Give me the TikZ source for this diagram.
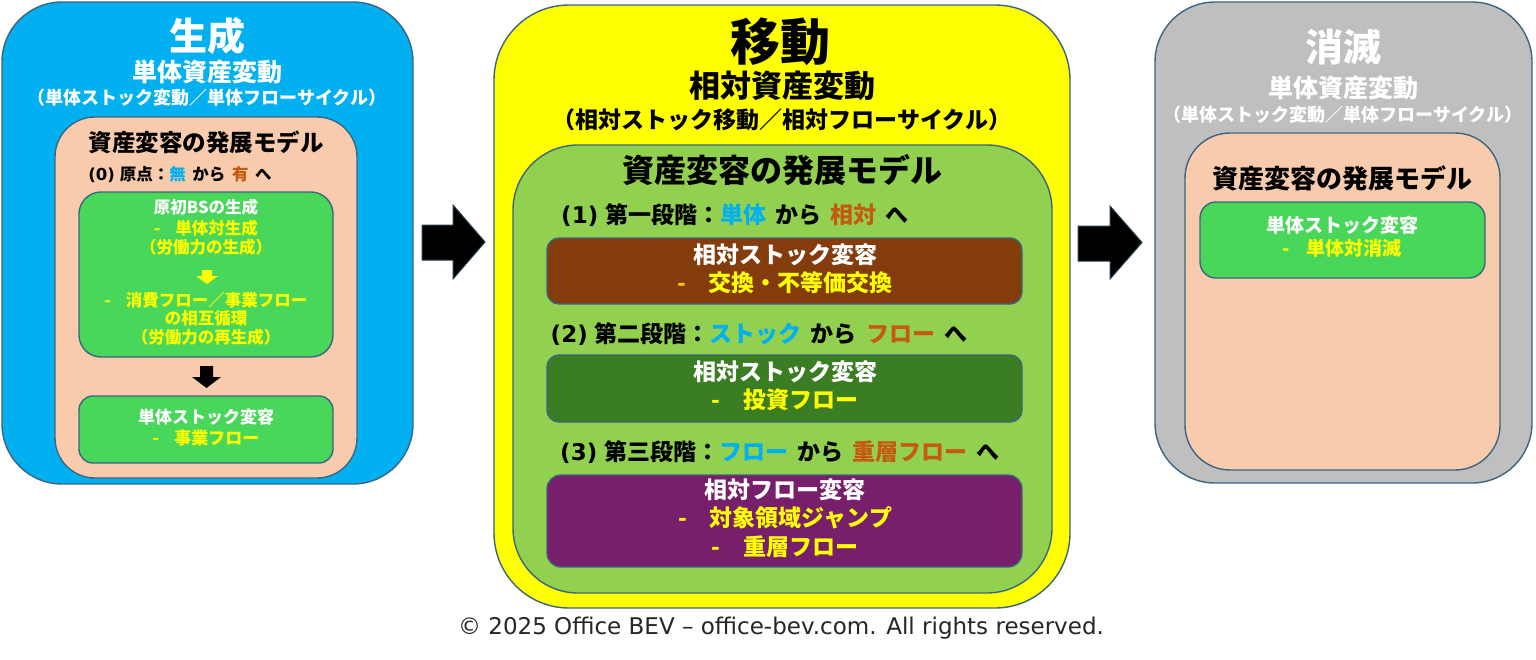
\documentclass[tikz,border=0pt]{standalone}
\usepackage{fontspec}
\setmainfont{Noto Sans CJK JP}
\newfontfamily\cpyfont{DejaVu Sans}
\newcommand{\lat}[1]{{\cpyfont\bfseries #1}}
\newcommand{\wsp}{\hspace{0.4em}}
\definecolor{blueP}{HTML}{00B0F0}
\definecolor{yellowP}{HTML}{FFFF00}
\definecolor{grayP}{HTML}{BFBFBF}
\definecolor{greenP}{HTML}{92D050}
\definecolor{peach}{HTML}{F8CBAD}
\definecolor{bgreen}{HTML}{48D65B}
\definecolor{brownB}{HTML}{843C0C}
\definecolor{dkgreen}{HTML}{3A7D22}
\definecolor{purpleB}{HTML}{781F6B}
\definecolor{edge}{HTML}{3C6580}
\definecolor{txtblue}{HTML}{00B0F0}
\definecolor{txtorange}{HTML}{C55A11}
\definecolor{ytxt}{HTML}{FFFF00}
\definecolor{otxt}{HTML}{FFC000}
\definecolor{cpy}{HTML}{262626}
\newcommand{\fs}[1]{\fontsize{#1}{#1}\selectfont\bfseries}
\begin{document}
\begin{tikzpicture}[x=1pt,y=-1pt,
  panel/.style={draw=edge, line width=1.4pt, rounded corners=#1, inner sep=0pt},
  txt/.style={inner sep=0pt, anchor=center},
  blockarrow/.style={fill=black, draw=edge!60!black, line width=1pt, line join=miter},
  smallarrow/.style={fill=#1, draw=none}]
\useasboundingbox[fill=white] (0,0) rectangle (1536,659);

% ---------------- left panel ----------------
\node[panel=60, fill=blueP, minimum width=411pt, minimum height=482pt] (blueL) at (207.5,243) {};
\node[panel=40, fill=peach, minimum width=302pt, minimum height=361pt] (peachL) at (206,297.5) {};
\node[panel=22, fill=bgreen, minimum width=254pt, minimum height=165pt] (gL1) at (206,274.5) {};
\node[panel=14, fill=bgreen, minimum width=254pt, minimum height=67pt] (gL2) at (206,429.5) {};

\node[txt, text=white, font=\fs{38}] (tL1) at (207,36) {生成};
\node[txt, text=white, font=\fs{25}] (tL2) at (207,72) {単体資産変動};
\node[txt, text=white, font=\fs{18}] (tL3) at (207,98) {（単体ストック変動／単体フローサイクル）};
\node[txt, text=black, font=\fs{23.5}] (tL4) at (206,142) {資産変容の発展モデル};
\node[txt, text=black, font=\fs{16.5}] (tL5) at (180,175) {\lat{(0)}\hspace{0.3em}原点：\textcolor{txtblue}{無}\wsp から\wsp\textcolor{txtorange}{有}\wsp へ};
\node[txt, text=white, font=\fs{16.5}] (tL6) at (206,207) {原初BSの生成};
\node[txt, text=ytxt, font=\fs{16.5}] (tL7) at (206,228) {-\hspace{0.9em}単体対生成};
\node[txt, text=ytxt, font=\fs{16.5}] (tL8) at (206,247) {（労働力の生成）};
\fill[smallarrow=ytxt] (202,270) -- (212,270) -- (212,276) -- (218,276) -- (207,284) -- (196,276) -- (202,276) -- cycle;
\node[txt, text=ytxt, font=\fs{16.5}] (tL9) at (206,300) {-\hspace{0.9em}消費フロー／事業フロー};
\node[txt, text=ytxt, font=\fs{16.5}] (tL10) at (206,318) {の相互循環};
\node[txt, text=ytxt, font=\fs{16.5}] (tL11) at (206,337) {（労働力の再生成）};
\fill[smallarrow=black] (200,366) -- (213,366) -- (213,377) -- (221,377) -- (206.5,388) -- (192,377) -- (200,377) -- cycle;
\node[txt, text=white, font=\fs{17}] (tL12) at (206,417) {単体ストック変容};
\node[txt, text=ytxt, font=\fs{17}] (tL13) at (206,438) {-\hspace{0.9em}事業フロー};

% ---------------- arrows ----------------
\draw[blockarrow] (422,225) -- (453,225) -- (453,205) -- (485,242) -- (453,279) -- (453,260) -- (422,260) -- cycle;
\draw[blockarrow] (1078,226) -- (1110,226) -- (1110,206) -- (1142,242.5) -- (1110,279) -- (1110,261) -- (1078,261) -- cycle;

% ---------------- middle panel ----------------
\node[panel=75, fill=yellowP, minimum width=576pt, minimum height=603pt] (yelM) at (782,306.5) {};
\node[panel=65, fill=greenP, minimum width=539pt, minimum height=448pt] (grM) at (782.5,369) {};
\node[panel=12, fill=brownB, minimum width=475pt, minimum height=66pt] (brB) at (784.5,271) {};
\node[panel=12, fill=dkgreen, minimum width=475pt, minimum height=67pt] (dgB) at (784.5,388.5) {};
\node[panel=14, fill=purpleB, minimum width=475pt, minimum height=92pt] (puB) at (784.5,521) {};

\node[txt, text=black, font=\fs{50}] (tM1) at (780,42) {移動};
\node[txt, text=black, font=\fs{31}] (tM2) at (782,86) {相対資産変動};
\node[txt, text=black, font=\fs{23}] (tM3) at (782,120) {（相対ストック移動／相対フローサイクル）};
\node[txt, text=black, font=\fs{32}] (tM4) at (782,170) {資産変容の発展モデル};
\node[txt, text=black, font=\fs{23}] (tM5) at (735,215) {\lat{(1)}\hspace{0.3em}第一段階：\textcolor{txtblue}{単体}\wsp から\wsp\textcolor{txtorange}{相対}\wsp へ};
\node[txt, text=white, font=\fs{23}] (tM6) at (785,255) {相対ストック変容};
\node[txt, text=ytxt, font=\fs{23}] (tM7) at (785,283) {\textcolor{otxt}{-}\hspace{1em}交換・不等価交換};
\node[txt, text=black, font=\fs{23}] (tM8) at (759,334) {\lat{(2)}\hspace{0.3em}第二段階：\textcolor{txtblue}{ストック}\wsp から\wsp\textcolor{txtorange}{フロー}\wsp へ};
\node[txt, text=white, font=\fs{23}] (tM9) at (785,372) {相対ストック変容};
\node[txt, text=ytxt, font=\fs{23}] (tM10) at (785,400) {-\hspace{1em}投資フロー};
\node[txt, text=black, font=\fs{23}] (tM11) at (780,452) {\lat{(3)}\hspace{0.3em}第三段階：\textcolor{txtblue}{フロー}\wsp から\wsp\textcolor{txtorange}{重層フロー}\wsp へ};
\node[txt, text=white, font=\fs{23}] (tM12) at (785,490) {相対フロー変容};
\node[txt, text=ytxt, font=\fs{23}] (tM13) at (785,518) {-\hspace{1em}対象領域ジャンプ};
\node[txt, text=ytxt, font=\fs{23}] (tM14) at (785,547) {-\hspace{1em}重層フロー};

% ---------------- right panel ----------------
\node[panel=60, fill=grayP, minimum width=377pt, minimum height=481pt] (grayR) at (1343.5,242.5) {};
\node[panel=45, fill=peach, minimum width=315pt, minimum height=337pt] (peachR) at (1342.5,301.5) {};
\node[panel=16, fill=bgreen, minimum width=285pt, minimum height=76pt] (gR) at (1342.5,240) {};

\node[txt, text=white, font=\fs{38}] (tR1) at (1343,47) {消滅};
\node[txt, text=white, font=\fs{25}] (tR2) at (1343,88) {単体資産変動};
\node[txt, text=white, font=\fs{18}] (tR3) at (1343,115) {（単体ストック変動／単体フローサイクル）};
\node[txt, text=black, font=\fs{26}] (tR4) at (1342,178) {資産変容の発展モデル};
\node[txt, text=white, font=\fs{19}] (tR5) at (1342,225) {単体ストック変容};
\node[txt, text=ytxt, font=\fs{19}] (tR6) at (1342,248) {-\hspace{0.9em}単体対消滅};

% ---------------- copyright ----------------
\node[txt, text=cpy, font=\cpyfont\fontsize{23}{23}\selectfont] (cp) at (781,628) {© 2025 Office BEV – office-bev.com. All rights reserved.};
\end{tikzpicture}
\end{document}
